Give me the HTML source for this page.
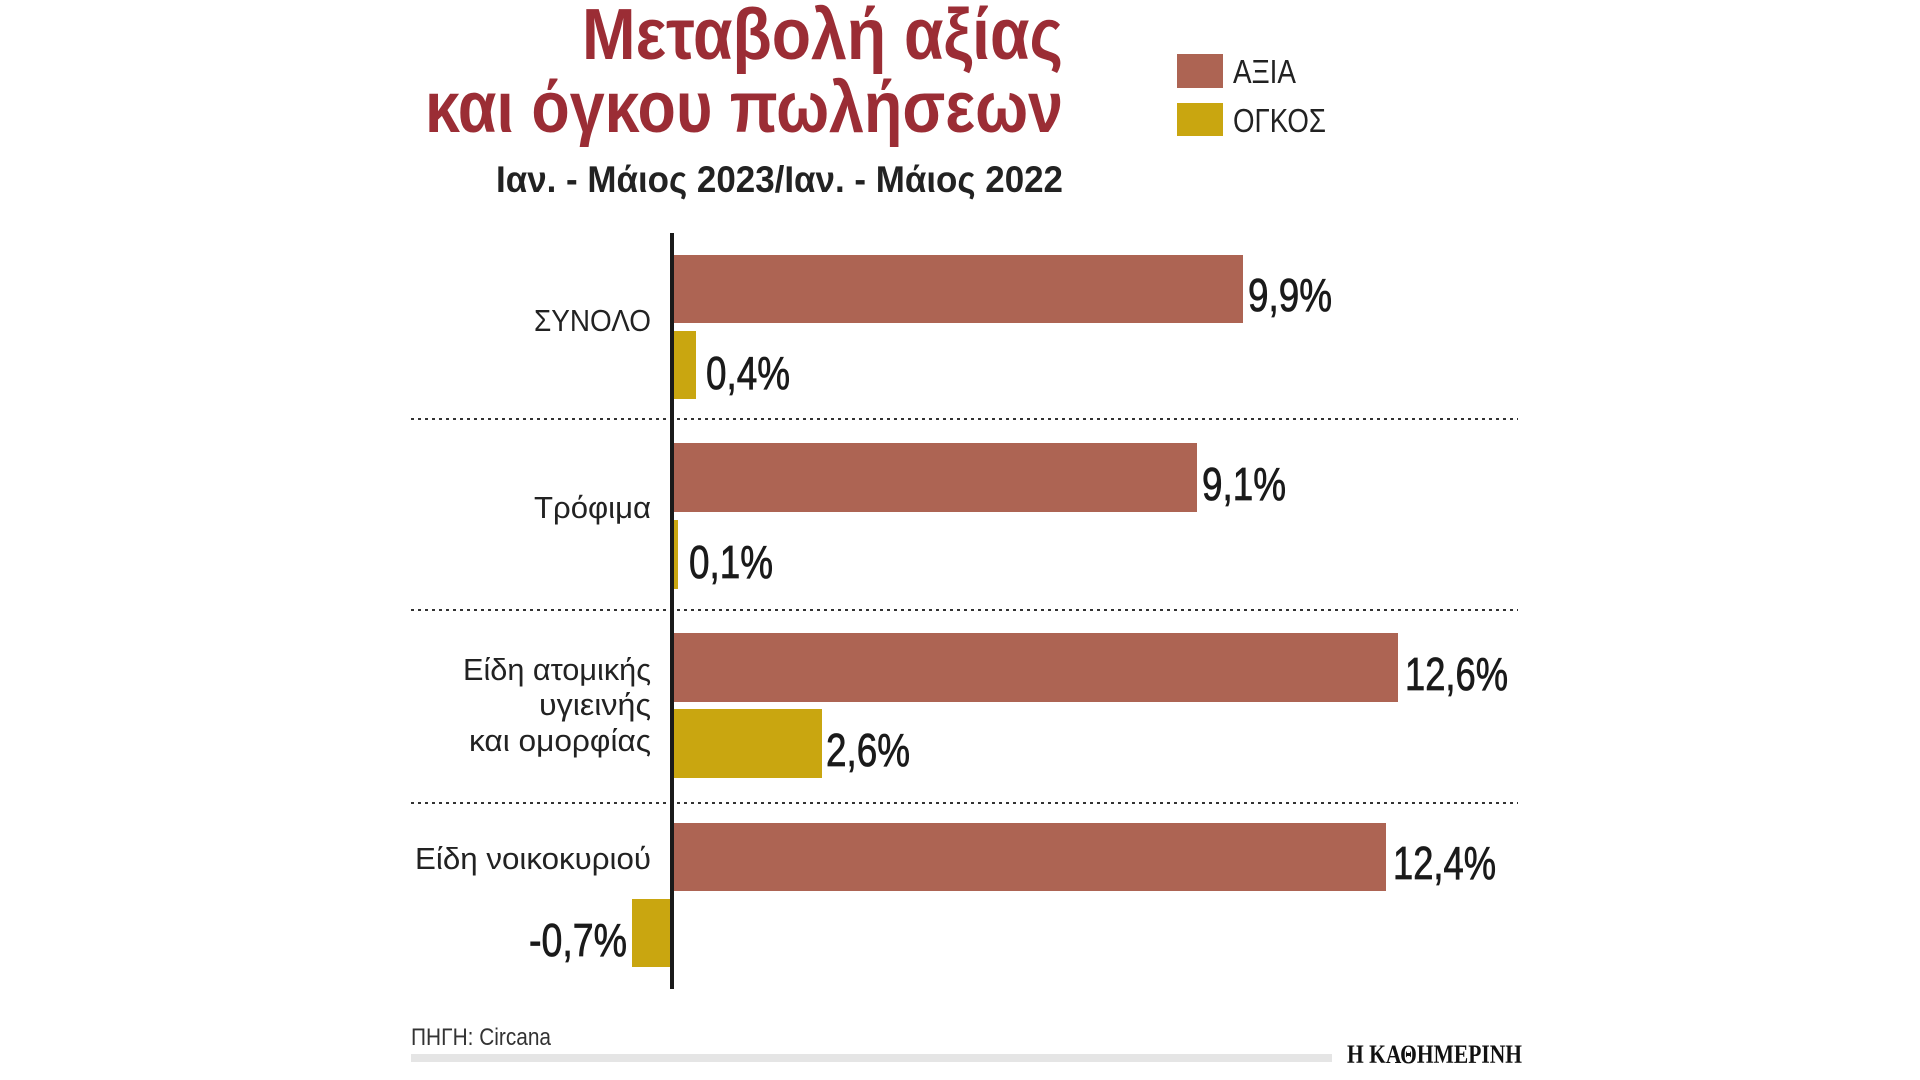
<!DOCTYPE html>
<html><head><meta charset="utf-8"><style>html,body{margin:0;padding:0;background:#fff}svg{display:block}</style></head>
<body>
<svg width="1920" height="1080" viewBox="0 0 1920 1080" xmlns="http://www.w3.org/2000/svg" font-family="'Liberation Sans', sans-serif">
<rect width="1920" height="1080" fill="#fff"/>
<g fill="#9b2d35" font-weight="bold" font-size="72">
<text x="582" y="59" textLength="481" lengthAdjust="spacingAndGlyphs">Μεταβολή αξίας</text>
<text x="425" y="132" textLength="638" lengthAdjust="spacingAndGlyphs">και όγκου πωλήσεων</text>
</g>
<text x="496" y="192" font-size="37" font-weight="bold" fill="#222" textLength="567" lengthAdjust="spacingAndGlyphs">Ιαν. - Μάιος 2023/Ιαν. - Μάιος 2022</text>
<rect x="1177" y="54" width="46" height="34" fill="#ad6453"/>
<rect x="1177" y="103" width="46" height="33" fill="#c9a610"/>
<g font-size="33" fill="#222">
<text x="1233" y="83" textLength="63" lengthAdjust="spacingAndGlyphs">ΑΞΙΑ</text>
<text x="1233" y="132" textLength="93" lengthAdjust="spacingAndGlyphs">ΟΓΚΟΣ</text>
</g>
<g stroke="#333" stroke-width="2" stroke-dasharray="3,4">
<line x1="411" y1="419" x2="1518" y2="419"/>
<line x1="411" y1="610" x2="1518" y2="610"/>
<line x1="411" y1="803" x2="1518" y2="803"/>
</g>
<g fill="#ad6453">
<rect x="674" y="255" width="569" height="68"/>
<rect x="674" y="443" width="523" height="69"/>
<rect x="674" y="633" width="724" height="69"/>
<rect x="674" y="823" width="712" height="68"/>
</g>
<g fill="#c9a610">
<rect x="674" y="331" width="22" height="68"/>
<rect x="674" y="520" width="4" height="69"/>
<rect x="674" y="709" width="148" height="69"/>
<rect x="632" y="899" width="40" height="68"/>
</g>
<rect x="670" y="233" width="4" height="756" fill="#1a1a1a"/>
<g font-size="46" fill="#1a1a1a" stroke="#1a1a1a" stroke-width="0.8">
<text x="1248" y="311" textLength="84" lengthAdjust="spacingAndGlyphs">9,9%</text>
<text x="706" y="389" textLength="84" lengthAdjust="spacingAndGlyphs">0,4%</text>
<text x="1202" y="500" textLength="84" lengthAdjust="spacingAndGlyphs">9,1%</text>
<text x="689" y="578" textLength="84" lengthAdjust="spacingAndGlyphs">0,1%</text>
<text x="1405" y="690" textLength="103" lengthAdjust="spacingAndGlyphs">12,6%</text>
<text x="826" y="766" textLength="84" lengthAdjust="spacingAndGlyphs">2,6%</text>
<text x="1393" y="879" textLength="103" lengthAdjust="spacingAndGlyphs">12,4%</text>
<text x="529" y="956" textLength="98" lengthAdjust="spacingAndGlyphs">-0,7%</text>
</g>
<g font-size="31" fill="#222" text-anchor="end">
<text x="651" y="331" textLength="117" lengthAdjust="spacingAndGlyphs">ΣΥΝΟΛΟ</text>
<text x="651" y="518" textLength="117" lengthAdjust="spacingAndGlyphs">Τρόφιμα</text>
<text x="651" y="680" textLength="188" lengthAdjust="spacingAndGlyphs">Είδη ατομικής</text>
<text x="651" y="715" textLength="112" lengthAdjust="spacingAndGlyphs">υγιεινής</text>
<text x="651" y="751" textLength="182" lengthAdjust="spacingAndGlyphs">και ομορφίας</text>
<text x="651" y="869" textLength="236" lengthAdjust="spacingAndGlyphs">Είδη νοικοκυριού</text>
</g>
<text x="411" y="1045" font-size="24" fill="#333" textLength="140" lengthAdjust="spacingAndGlyphs">ΠΗΓΗ: Circana</text>
<rect x="411" y="1054" width="921" height="8" fill="#e5e5e5"/>
<text x="1347" y="1063" font-family="'Liberation Serif', serif" font-weight="bold" font-size="26" fill="#111" textLength="175" lengthAdjust="spacingAndGlyphs">Η ΚΑΘΗΜΕΡΙΝΗ</text>
</svg>
</body></html>
